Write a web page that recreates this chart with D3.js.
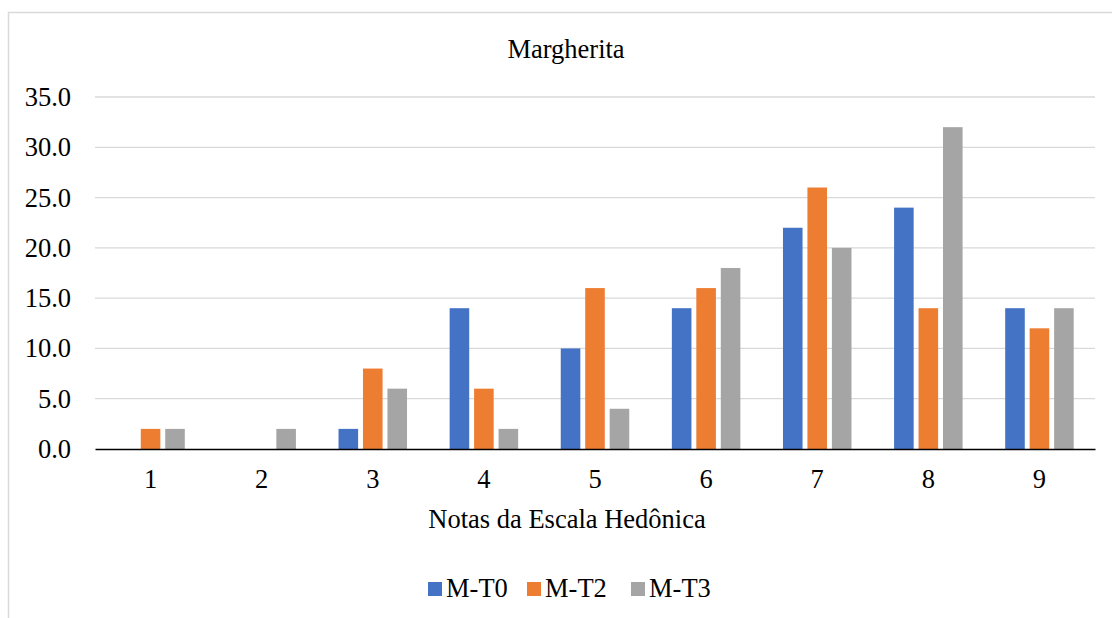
<!DOCTYPE html>
<html>
<head>
<meta charset="utf-8">
<script src="https://cdn.jsdelivr.net/npm/d3@7"></script>
<style>
	body { margin: 0; background: #fff; }
	text { font-family: "Liberation Serif", "Times New Roman", serif; fill: #000; }
</style>
</head>
<body>
<div id="chart"></div>
<script>
	'use strict';

	// data
	const categories = ['1', '2', '3', '4', '5', '6', '7', '8', '9'];
	const seriesNames = ['M-T0', 'M-T2', 'M-T3'];
	const valuesT0 = [0, 0, 2, 14, 10, 14, 22, 24, 14];
	const valuesT2 = [2, 0, 8, 6, 16, 16, 26, 14, 12];
	const valuesT3 = [2, 2, 6, 2, 4, 18, 20, 32, 14];
	const yTicks = [0, 5, 10, 15, 20, 25, 30, 35];
	const colors = ['#4472C4', '#ED7D31', '#A5A5A5'];

	const series = [valuesT0, valuesT2, valuesT3];

	// layout
	let width = 1112, height = 618;
	let plot = {left: 95, right: 1095, top: 97, bottom: 449};
	let fontSize = 26.5;

	let svg = d3.select('#chart').append('svg')
		.attr('width', width)
		.attr('height', height);

	// chart area border (cut off on the right and bottom)
	svg.append('rect')
		.attr('x', 8.5).attr('y', 12.5)
		.attr('width', width + 20).attr('height', height + 20)
		.attr('fill', '#fff')
		.attr('stroke', '#d9d9d9')
		.attr('stroke-width', 1.5);

	let x0 = d3.scaleBand()
		.domain(categories)
		.range([plot.left, plot.right])
		.padding(0);

	let groupWidth = 68.5;
	let x1 = d3.scaleBand()
		.domain(seriesNames)
		.range([(x0.step() - groupWidth) / 2, (x0.step() + groupWidth) / 2])
		.paddingInner(0.2)
		.paddingOuter(0);

	let y = d3.scaleLinear()
		.domain([0, 35])
		.range([plot.bottom, plot.top]);

	// gridlines
	svg.append('g')
		.selectAll('line')
		.data(yTicks.filter(d => d > 0))
		.join('line')
		.attr('x1', plot.left).attr('x2', plot.right)
		.attr('y1', d => y(d)).attr('y2', d => y(d))
		.attr('stroke', '#d9d9d9')
		.attr('stroke-width', 1.3);

	// y axis labels
	let yAxis = d3.axisLeft(y)
		.tickValues(yTicks)
		.tickFormat(d3.format('.1f'))
		.tickSize(0)
		.tickPadding(24);
	svg.append('g')
		.attr('transform', 'translate(' + plot.left + ',0)')
		.call(yAxis)
		.call(g => g.select('.domain').remove())
		.selectAll('text')
		.attr('font-family', '"Liberation Serif", serif')
		.attr('font-size', fontSize)
		.attr('fill', '#000');

	// bars
	let groups = svg.append('g')
		.selectAll('g')
		.data(series)
		.join('g')
		.attr('fill', (d, i) => colors[i]);

	groups.selectAll('rect')
		.data((vals, i) => vals.map((v, j) => ({cat: categories[j], name: seriesNames[i], value: v})))
		.join('rect')
		.filter(d => d.value > 0)
		.attr('x', d => x0(d.cat) + x1(d.name))
		.attr('y', d => y(d.value))
		.attr('width', x1.bandwidth())
		.attr('height', d => y(0) - y(d.value));

	// x axis
	let xAxis = d3.axisBottom(x0)
		.tickSize(0)
		.tickPadding(20);
	svg.append('g')
		.attr('transform', 'translate(0,' + plot.bottom + ')')
		.call(xAxis)
		.call(g => g.select('.domain')
			.attr('stroke', '#000')
			.attr('stroke-width', 1.6))
		.selectAll('text')
		.attr('font-family', '"Liberation Serif", serif')
		.attr('font-size', fontSize)
		.attr('fill', '#000');

	// title
	svg.append('text')
		.attr('x', 566).attr('y', 58)
		.attr('text-anchor', 'middle')
		.attr('font-size', fontSize)
		.text('Margherita');

	// x axis title
	svg.append('text')
		.attr('x', 567).attr('y', 528)
		.attr('text-anchor', 'middle')
		.attr('font-size', fontSize)
		.text('Notas da Escala Hedônica');

	// legend
	let legendX = [428, 527, 631];
	let legend = svg.append('g')
		.selectAll('g')
		.data(seriesNames)
		.join('g')
		.attr('transform', (d, i) => 'translate(' + legendX[i] + ',582)');
	legend.append('rect')
		.attr('width', 14).attr('height', 14)
		.attr('fill', (d, i) => colors[i]);
	legend.append('text')
		.attr('x', 18).attr('y', 15)
		.attr('font-size', fontSize)
		.text(d => d);
</script>
</body>
</html>
